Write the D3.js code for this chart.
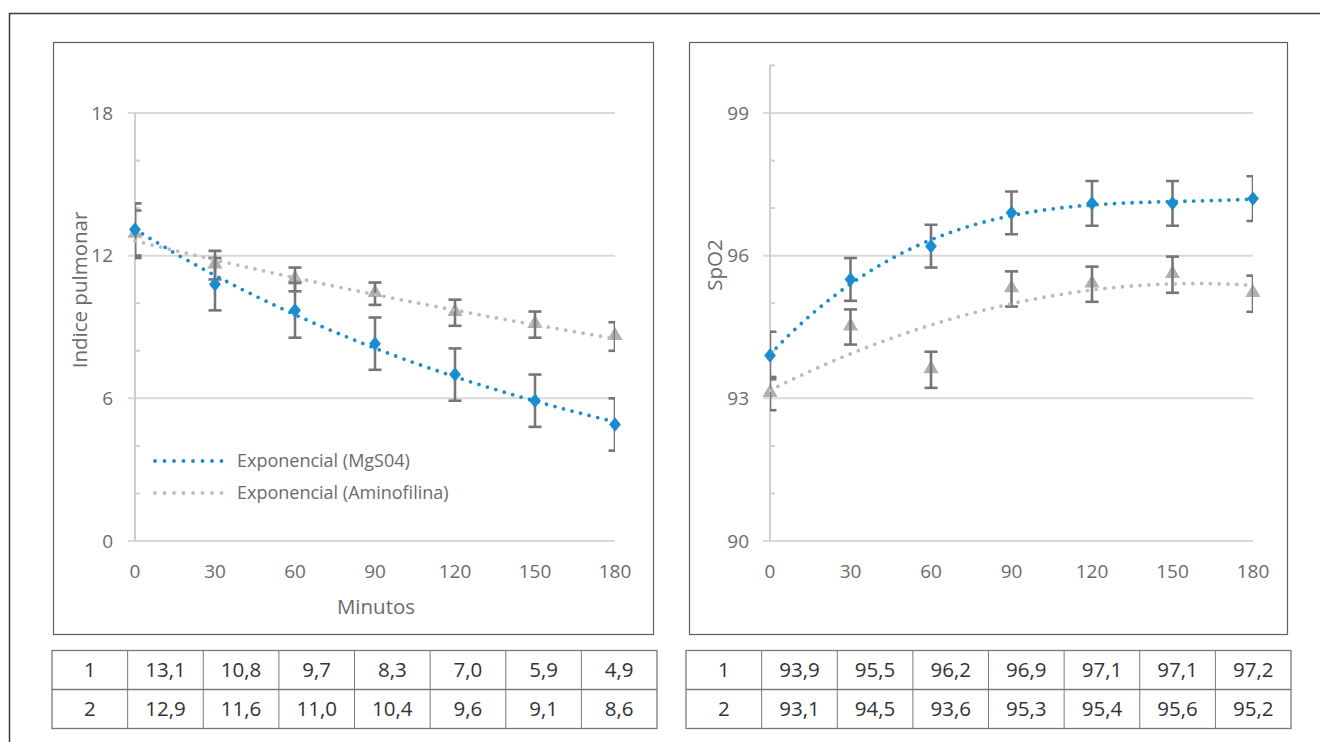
<!DOCTYPE html>
<html>
<head>
<meta charset="utf-8">
<script src="https://cdn.jsdelivr.net/npm/d3@7/dist/d3.min.js"></script>
<style>
  html, body { margin: 0; padding: 0; background: #fff; }
  svg { display: block; font-family: "Open Sans", "Noto Sans", sans-serif; }
</style>
</head>
<body>
<svg id="chart" width="1320" height="742"></svg>
<script>
// ---------------- DATA ----------------
const minutes = [0, 30, 60, 90, 120, 150, 180];
const seriesNames = ["1", "2"];
const legendLabels = ["Exponencial (MgS04)", "Exponencial (Aminofilina)"];

const indiceMgSO4 = [13.1, 10.8, 9.7, 8.3, 7.0, 5.9, 4.9];
const indiceAmino = [12.9, 11.6, 11.0, 10.4, 9.6, 9.1, 8.6];
const indiceMgSO4Err = [1.1, 1.1, 1.15, 1.1, 1.1, 1.1, 1.1];
const indiceAminoErr = [1.0, 0.6, 0.5, 0.47, 0.55, 0.55, 0.6];

const spo2MgSO4 = [93.9, 95.5, 96.2, 96.9, 97.1, 97.1, 97.2];
const spo2Amino = [93.1, 94.5, 93.6, 95.3, 95.4, 95.6, 95.2];
const spo2MgSO4Err = [0.5, 0.45, 0.45, 0.45, 0.47, 0.47, 0.47];
const spo2AminoErr = [0.35, 0.37, 0.38, 0.37, 0.37, 0.38, 0.38];

const indiceTicks = [0, 6, 12, 18];
const indiceMinor = [2, 4, 8, 10, 14, 16];
const spo2Ticks = [90, 93, 96, 99];
const spo2Minor = [91, 92, 94, 95, 97, 98, 100];

// ---------------- STYLE ----------------
const BLUE = "#1a8dcf";
const GRAYM = "#b0b0b0";
const GRAYT = "#bcbcbc";
const ERR = "#767676";
const GRID = "#d9d9d9";
const TXT = "#6b6b6b";

const svg = d3.select("#chart");

// outer frame
svg.append("path").attr("d", "M9.5,742 L9.5,13.5 L1320,13.5")
  .attr("fill", "none").attr("stroke", "#3a3a3a").attr("stroke-width", 1.5);

// ---------------- FITS (derived from data) ----------------
function polyfit(xs, ys, order) {
  const n = order + 1;
  const sx = xs.map(x => x / 180);
  const A = Array.from({length: n}, () => new Array(n + 1).fill(0));
  for (let k = 0; k < sx.length; k++) {
    for (let i = 0; i < n; i++) {
      for (let j = 0; j < n; j++) A[i][j] += Math.pow(sx[k], i + j);
      A[i][n] += ys[k] * Math.pow(sx[k], i);
    }
  }
  for (let i = 0; i < n; i++) {
    let p = i;
    for (let r = i + 1; r < n; r++) if (Math.abs(A[r][i]) > Math.abs(A[p][i])) p = r;
    [A[i], A[p]] = [A[p], A[i]];
    for (let r = 0; r < n; r++) {
      if (r === i) continue;
      const f = A[r][i] / A[i][i];
      for (let c = i; c <= n; c++) A[r][c] -= f * A[i][c];
    }
  }
  const coef = A.map((row, i) => row[n] / row[i]);
  return x => coef.reduce((s, c, i) => s + c * Math.pow(x / 180, i), 0);
}
function expfit(xs, ys) {
  const lin = polyfit(xs, ys.map(Math.log), 1);
  return x => Math.exp(lin(x));
}

// ---------------- CHART BUILDER ----------------
function drawChart(cfg) {
  const g = svg.append("g");
  g.append("rect").attr("x", cfg.box[0]).attr("y", cfg.box[1])
    .attr("width", cfg.box[2]).attr("height", cfg.box[3])
    .attr("fill", "#fff").attr("stroke", "#5f5f5f").attr("stroke-width", 1.2);

  const x = d3.scaleLinear().domain([0, 180]).range(cfg.xr);
  const y = d3.scaleLinear().domain(cfg.yd).range(cfg.yr);

  // gridlines
  g.append("g").selectAll("line").data(cfg.ticks).join("line")
    .attr("x1", x(0) - 7).attr("x2", x(180))
    .attr("y1", d => y(d)).attr("y2", d => y(d))
    .attr("stroke", GRID).attr("stroke-width", 2);
  // y axis line
  g.append("line").attr("x1", x(0)).attr("x2", x(0))
    .attr("y1", y(cfg.yTop)).attr("y2", y(cfg.yd[0]))
    .attr("stroke", "#cfcfcf").attr("stroke-width", 2);
  // minor ticks (inside)
  g.append("g").selectAll("line").data(cfg.minor).join("line")
    .attr("x1", x(0)).attr("x2", x(0) + 5)
    .attr("y1", d => y(d)).attr("y2", d => y(d))
    .attr("stroke", "#cfcfcf").attr("stroke-width", 2);

  // tick labels
  g.append("g").selectAll("text").data(cfg.ticks).join("text")
    .attr("x", cfg.yLabelX).attr("y", d => y(d)).attr("dy", "0.35em")
    .attr("text-anchor", "end").attr("font-size", 19).attr("fill", TXT)
    .text(d => d);
  g.append("g").selectAll("text").data(minutes).join("text")
    .attr("x", d => x(d)).attr("y", 571).attr("dy", "0.35em")
    .attr("text-anchor", "middle").attr("font-size", 19).attr("fill", TXT)
    .text(d => d);

  // axis titles
  g.append("text").attr("transform", `translate(${cfg.yTitle[0]},${cfg.yTitle[1]}) rotate(-90)`)
    .attr("text-anchor", "middle").attr("dy", "0.35em")
    .attr("font-size", 20.5).attr("fill", TXT).text(cfg.yTitleText);
  if (cfg.xTitleText) {
    g.append("text").attr("x", (x(0) + x(180)) / 2 + 1).attr("y", 607).attr("dy", "0.35em")
      .attr("text-anchor", "middle").attr("font-size", 20.5).attr("fill", TXT).text(cfg.xTitleText);
  }

  const clipId = "clip" + cfg.id;
  svg.append("clipPath").attr("id", clipId).append("rect")
    .attr("x", x(0)).attr("y", cfg.box[1]).attr("width", x(180) - x(0)).attr("height", cfg.box[3]);

  const line = d3.line().x(d => x(d[0])).y(d => y(d[1])).curve(d3.curveBasis);
  const samples = d3.range(0, 180.01, 2);

  function errorBars(vals, errs) {
    const eg = g.append("g").attr("clip-path", `url(#${clipId})`)
      .attr("stroke", ERR).attr("stroke-width", 2.6).attr("fill", "none");
    vals.forEach((v, i) => {
      const cx = x(minutes[i]);
      const t = y(v + errs[i]), b = y(v - errs[i]);
      eg.append("line").attr("x1", cx).attr("x2", cx).attr("y1", t).attr("y2", b);
      eg.append("line").attr("x1", cx - 6.5).attr("x2", cx + 6.5).attr("y1", t).attr("y2", t);
      eg.append("line").attr("x1", cx - 6.5).attr("x2", cx + 6.5).attr("y1", b).attr("y2", b);
    });
  }
  function markers(vals, type, color) {
    const sym = d3.symbol().type(type === "diamond" ? d3.symbolDiamond2 : d3.symbolTriangle)
      .size(type === "diamond" ? 110 : 100);
    g.append("g").selectAll("path").data(vals).join("path")
      .attr("transform", (d, i) => type === "diamond"
        ? `translate(${x(minutes[i])},${y(d)}) scale(0.9,1.1)`
        : `translate(${x(minutes[i])},${y(d) - 1})`)
      .attr("d", sym).attr("fill", color);
  }
  function trend(fn, color) {
    g.append("path").datum(samples.map(s => [s, fn(s)]))
      .attr("d", line).attr("fill", "none").attr("stroke", color)
      .attr("stroke-width", 3.8).attr("stroke-linecap", "round")
      .attr("stroke-dasharray", "0 8.8");
  }

  // series 2 (gray)
  markers(cfg.s2, "triangle", GRAYM);
  errorBars(cfg.s2, cfg.e2);
  // series 1 (blue)
  errorBars(cfg.s1, cfg.e1);
  markers(cfg.s1, "diamond", BLUE);
  trend(cfg.f2, GRAYT);
  trend(cfg.f1, BLUE);

  if (cfg.legend) {
    const lg = g.append("g");
    [BLUE, GRAYT].forEach((c, i) => {
      const ly = 461 + i * 32;
      lg.append("line").attr("x1", 155).attr("x2", 222).attr("y1", ly).attr("y2", ly)
        .attr("stroke", c).attr("stroke-width", 3.8).attr("stroke-linecap", "round")
        .attr("stroke-dasharray", "0 9.5");
      lg.append("text").attr("x", 237).attr("y", ly).attr("dy", "0.35em")
        .attr("font-size", 18).attr("fill", TXT).text(legendLabels[i]);
    });
  }
}

drawChart({
  id: "L", box: [53.5, 42.5, 600, 592], xr: [135, 615], yd: [0, 18], yr: [541, 113], yTop: 18,
  ticks: indiceTicks, minor: indiceMinor, yLabelX: 113,
  yTitle: [80, 290], yTitleText: "Indice pulmonar", xTitleText: "Minutos",
  s1: indiceMgSO4, e1: indiceMgSO4Err, s2: indiceAmino, e2: indiceAminoErr,
  f1: expfit(minutes, indiceMgSO4), f2: expfit(minutes, indiceAmino), legend: true
});
drawChart({
  id: "R", box: [689.5, 42.5, 598, 592], xr: [770, 1253], yd: [90, 99], yr: [541, 113], yTop: 100,
  ticks: spo2Ticks, minor: spo2Minor, yLabelX: 749,
  yTitle: [715, 265], yTitleText: "SpO2", xTitleText: null,
  s1: spo2MgSO4, e1: spo2MgSO4Err, s2: spo2Amino, e2: spo2AminoErr,
  f1: polyfit(minutes, spo2MgSO4, 3), f2: polyfit(minutes, spo2Amino, 2), legend: false
});

// ---------------- TABLES ----------------
const fmt = v => d3.format(".1f")(v).replace(".", ",");
function drawTable(x0, x1, rows) {
  const y0 = 650.5, y1 = 728.5;
  const cols = 8;
  const cx = d3.scaleLinear().domain([0, cols]).range([x0, x1]);
  const ry = d3.scaleLinear().domain([0, rows.length]).range([y0, y1]);
  const tg = svg.append("g");
  tg.append("rect").attr("x", x0).attr("y", y0).attr("width", x1 - x0).attr("height", y1 - y0)
    .attr("fill", "#fff").attr("stroke", "#7a7a7a").attr("stroke-width", 1.3);
  d3.range(1, cols).forEach(c => tg.append("line").attr("x1", cx(c)).attr("x2", cx(c))
    .attr("y1", y0).attr("y2", y1).attr("stroke", "#7a7a7a").attr("stroke-width", 1));
  tg.append("line").attr("x1", x0).attr("x2", x1).attr("y1", ry(1)).attr("y2", ry(1))
    .attr("stroke", "#7a7a7a").attr("stroke-width", 1.3);
  rows.forEach((r, ri) => {
    const cells = [seriesNames[ri]].concat(r.map(fmt));
    cells.forEach((t, ci) => tg.append("text")
      .attr("x", (cx(ci) + cx(ci + 1)) / 2).attr("y", (ry(ri) + ry(ri + 1)) / 2).attr("dy", "0.36em")
      .attr("text-anchor", "middle").attr("font-size", 20.5).attr("fill", "#333").text(t));
  });
}
drawTable(52, 657, [indiceMgSO4, indiceAmino]);
drawTable(686, 1291, [spo2MgSO4, spo2Amino]);
</script>
</body>
</html>
